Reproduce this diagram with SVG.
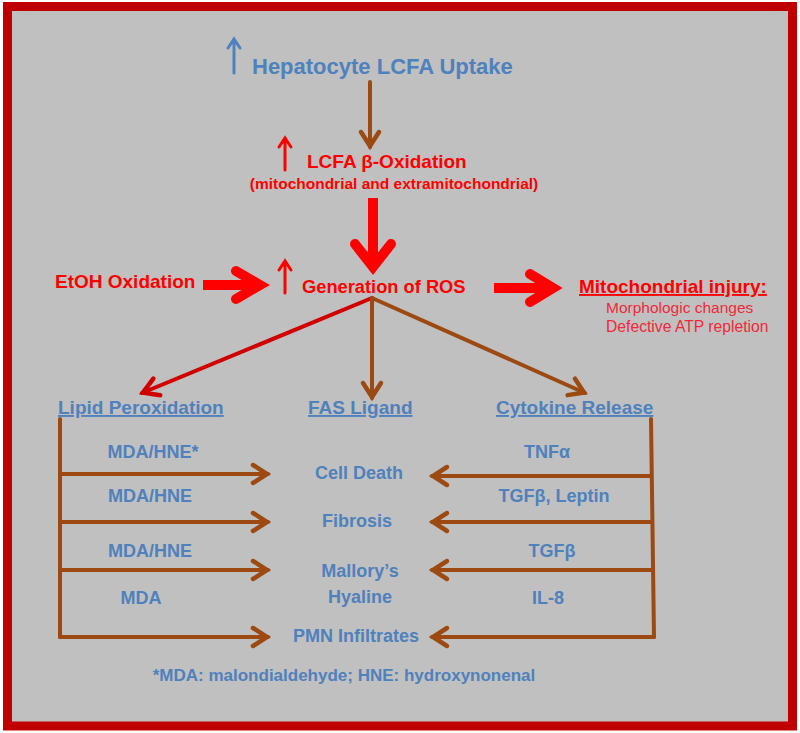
<svg xmlns="http://www.w3.org/2000/svg" width="800" height="733" viewBox="0 0 800 733">
<defs>
<style>
text{font-family:"Liberation Sans",Arial,sans-serif;font-weight:bold}
.blue{fill:#4F81BD}
.red{fill:#FF0000}
.red2{fill:#F2283A;font-weight:normal}
.u{text-decoration:underline}
.brown{stroke:#9C4A12;stroke-width:4;fill:none;stroke-linecap:round}
.bigshaft{stroke:#FF0000;stroke-width:10;fill:none;stroke-linecap:butt}
.bighead{stroke:#FF0000;stroke-width:10;fill:none;stroke-linecap:round;stroke-linejoin:miter;stroke-miterlimit:10}
.up{stroke-width:3;fill:none;stroke-linecap:round;stroke-linejoin:miter}
</style>
<marker id="hb" viewBox="-22 -14 26 28" markerWidth="26" markerHeight="28" refX="0" refY="0" orient="auto" markerUnits="userSpaceOnUse">
<path d="M-15,-9 L-1,0 L-15,9" fill="none" stroke="#9C4A12" stroke-width="4.5" stroke-linecap="round" stroke-linejoin="miter"/>
</marker>
<marker id="hr" viewBox="-22 -14 26 28" markerWidth="26" markerHeight="28" refX="0" refY="0" orient="auto" markerUnits="userSpaceOnUse">
<path d="M-16,-9 L-1,0 L-16,9" fill="none" stroke="#D00000" stroke-width="4.5" stroke-linecap="round" stroke-linejoin="miter"/>
</marker>
</defs>
<rect x="7.5" y="6.5" width="785" height="719.5" fill="#C0C0C0" stroke="#C00000" stroke-width="9"/>

<g id="hepatocyte">
<path class="up" stroke="#4F81BD" d="M234,73 V40 M228,48 L234,39 L240,48"/>
<text class="blue" x="252" y="74" font-size="22">Hepatocyte LCFA Uptake</text>
</g>

<g id="beta-oxidation">
<path class="up" stroke="#FF0000" d="M285,170 V139 M279,147 L285,138 L291,147"/>
<text class="red" x="307" y="168" font-size="19">LCFA β-Oxidation</text>
<text class="red" x="394" y="189" font-size="15.5" text-anchor="middle">(mitochondrial and extramitochondrial)</text>
</g>

<g id="etoh">
<text class="red" x="55" y="288" font-size="19">EtOH Oxidation</text>
</g>

<g id="ros">
<path class="up" stroke="#FF0000" d="M285,293 V262 M279,270 L285,261 L291,270"/>
<text class="red" x="302" y="293" font-size="18.3">Generation of ROS</text>
</g>

<g id="mito-injury">
<text class="red u" x="579" y="293" font-size="19">Mitochondrial injury:</text>
<text class="red2" x="606" y="313" font-size="15.5">Morphologic changes</text>
<text class="red2" x="606" y="332" font-size="15.7">Defective ATP repletion</text>
</g>

<g id="lipid-peroxidation">
<text class="blue u" x="58" y="414" font-size="19">Lipid Peroxidation</text>
</g>
<g id="fas-ligand">
<text class="blue u" x="308" y="414" font-size="19">FAS Ligand</text>
</g>
<g id="cytokine-release">
<text class="blue u" x="496" y="414" font-size="19">Cytokine Release</text>
</g>

<g id="left-labels">
<text class="blue" x="153" y="458" font-size="18" text-anchor="middle">MDA/HNE*</text>
<text class="blue" x="150" y="502" font-size="18" text-anchor="middle">MDA/HNE</text>
<text class="blue" x="150" y="557" font-size="18" text-anchor="middle">MDA/HNE</text>
<text class="blue" x="141" y="604" font-size="18" text-anchor="middle">MDA</text>
</g>

<g id="cell-death"><text class="blue" x="359" y="479" font-size="18" text-anchor="middle">Cell Death</text></g>
<g id="fibrosis"><text class="blue" x="357" y="527" font-size="18" text-anchor="middle">Fibrosis</text></g>
<g id="mallorys-hyaline">
<text class="blue" x="360" y="577" font-size="18" text-anchor="middle">Mallory’s</text>
<text class="blue" x="360" y="603" font-size="18" text-anchor="middle">Hyaline</text>
</g>
<g id="pmn"><text class="blue" x="356" y="642" font-size="18" text-anchor="middle">PMN Infiltrates</text></g>

<g id="right-labels">
<text class="blue" x="547" y="458" font-size="18" text-anchor="middle">TNFα</text>
<text class="blue" x="554" y="502" font-size="18" text-anchor="middle">TGFβ, Leptin</text>
<text class="blue" x="552" y="557" font-size="18" text-anchor="middle">TGFβ</text>
<text class="blue" x="548" y="604" font-size="18" text-anchor="middle">IL-8</text>
</g>

<g id="footnote">
<text class="blue" x="344" y="681" font-size="17" text-anchor="middle">*MDA: malondialdehyde; HNE: hydroxynonenal</text>
</g>

<g id="connectors">
<line class="brown" x1="370" y1="82" x2="370" y2="147" marker-end="url(#hb)"/>
<line class="bigshaft" x1="373" y1="198" x2="373" y2="262"/>
<polyline class="bighead" points="355,244 373,267 391,244"/>
<line class="bigshaft" x1="203" y1="285" x2="256" y2="285"/>
<polyline class="bighead" points="236,271 260,285 236,299"/>
<line class="bigshaft" x1="494" y1="288" x2="548" y2="288"/>
<polyline class="bighead" points="530,274 553,288 530,302"/>
<line x1="372" y1="298" x2="142" y2="393" stroke="#D00000" stroke-width="4" stroke-linecap="round" marker-end="url(#hr)"/>
<line class="brown" x1="372" y1="298" x2="372" y2="398" marker-end="url(#hb)"/>
<line class="brown" x1="372" y1="298" x2="585" y2="393" marker-end="url(#hb)"/>
<polyline class="brown" points="60,419 60,637"/>
<line class="brown" x1="60" y1="474" x2="268" y2="474" marker-end="url(#hb)"/>
<line class="brown" x1="60" y1="522" x2="268" y2="522" marker-end="url(#hb)"/>
<line class="brown" x1="60" y1="570" x2="268" y2="570" marker-end="url(#hb)"/>
<line class="brown" x1="60" y1="637" x2="268" y2="637" marker-end="url(#hb)"/>
<polyline class="brown" points="651,419 654,637"/>
<line class="brown" x1="651" y1="476" x2="432" y2="476" marker-end="url(#hb)"/>
<line class="brown" x1="652" y1="522" x2="432" y2="522" marker-end="url(#hb)"/>
<line class="brown" x1="653" y1="570" x2="432" y2="570" marker-end="url(#hb)"/>
<line class="brown" x1="654" y1="637" x2="432" y2="637" marker-end="url(#hb)"/>
</g>
</svg>
